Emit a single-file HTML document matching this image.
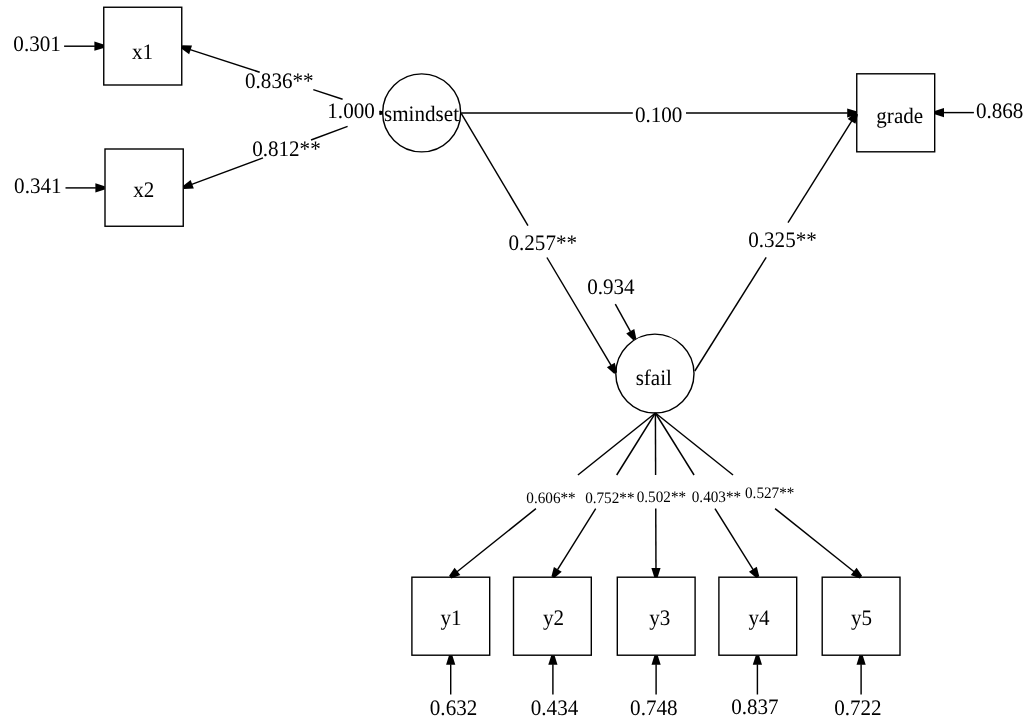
<!DOCTYPE html>
<html><head><meta charset="utf-8"><style>
html,body{margin:0;padding:0;background:#fff;width:1024px;height:725px;overflow:hidden}
svg{display:block;filter:grayscale(1)}
text{font-family:"Liberation Serif",serif;fill:#000;text-rendering:geometricPrecision}
</style></head><body>
<svg width="1024" height="725" viewBox="0 0 1024 725">
<rect width="1024" height="725" fill="#fff"/>
<g stroke="#000" fill="#000">
<rect x="103.75" y="7.25" width="78.00" height="77.75" fill="none" stroke-width="1.4"/>
<rect x="105" y="149" width="78.25" height="77.25" fill="none" stroke-width="1.4"/>
<rect x="856.75" y="73.8" width="77.95" height="78.00" fill="none" stroke-width="1.4"/>
<rect x="411.9" y="577.2" width="77.80" height="78.00" fill="none" stroke-width="1.4"/>
<rect x="513.5" y="577.2" width="77.80" height="78.00" fill="none" stroke-width="1.4"/>
<rect x="617.3" y="577.2" width="77.80" height="78.00" fill="none" stroke-width="1.4"/>
<rect x="718.9" y="577.2" width="77.80" height="78.00" fill="none" stroke-width="1.4"/>
<rect x="822.2" y="577.2" width="77.80" height="78.00" fill="none" stroke-width="1.4"/>
<circle cx="421.65" cy="112.85" r="39.0" fill="none" stroke-width="1.4"/>
<ellipse cx="654.9" cy="373.6" rx="39.1" ry="39.45" fill="none" stroke-width="1.4"/>
<polygon stroke="none" points="379.3,111.3 382.4,110.9 382.4,114.6 379.3,114.2"/>
<line x1="64.10" y1="46.20" x2="94.90" y2="46.20" stroke-width="1.45"/>
<polygon stroke="none" points="103.70,47.90 94.40,50.80 94.40,41.60 103.70,44.50"/>
<line x1="65.50" y1="187.90" x2="95.90" y2="187.90" stroke-width="1.45"/>
<polygon stroke="none" points="104.70,189.60 95.40,192.50 95.40,183.30 104.70,186.20"/>
<line x1="382.00" y1="112.00" x2="379.50" y2="111.19" stroke-width="1.45"/>
<line x1="342.60" y1="99.19" x2="313.30" y2="89.67" stroke-width="1.45"/>
<line x1="259.70" y1="72.24" x2="190.12" y2="49.62" stroke-width="1.45"/>
<polygon stroke="none" points="182.28,45.28 192.02,45.40 189.17,54.15 181.22,48.52"/>
<line x1="382.00" y1="113.60" x2="379.50" y2="114.53" stroke-width="1.45"/>
<line x1="347.60" y1="126.41" x2="311.00" y2="140.03" stroke-width="1.45"/>
<line x1="263.00" y1="157.90" x2="191.75" y2="184.43" stroke-width="1.45"/>
<polygon stroke="none" points="182.91,185.91 190.61,179.94 193.82,188.57 184.09,189.09"/>
<line x1="461.10" y1="113.00" x2="632.80" y2="113.00" stroke-width="1.45"/>
<line x1="686.00" y1="113.00" x2="847.70" y2="113.00" stroke-width="1.45"/>
<polygon stroke="none" points="856.50,114.70 847.20,117.60 847.20,108.40 856.50,111.30"/>
<line x1="973.90" y1="112.60" x2="943.50" y2="112.60" stroke-width="1.45"/>
<polygon stroke="none" points="934.70,110.90 944.00,108.00 944.00,117.20 934.70,114.30"/>
<line x1="461.20" y1="113.30" x2="527.97" y2="225.60" stroke-width="1.45"/>
<line x1="546.93" y1="257.50" x2="611.10" y2="365.44" stroke-width="1.45"/>
<polygon stroke="none" points="614.14,373.87 606.89,367.36 614.80,362.66 617.06,372.13"/>
<line x1="694.80" y1="371.00" x2="766.20" y2="257.30" stroke-width="1.45"/>
<line x1="787.99" y1="222.60" x2="851.82" y2="120.95" stroke-width="1.45"/>
<polygon stroke="none" points="857.94,114.40 855.45,123.82 847.66,118.93 855.06,112.60"/>
<line x1="615.30" y1="304.20" x2="630.53" y2="331.61" stroke-width="1.45"/>
<polygon stroke="none" points="633.31,340.13 626.26,333.40 634.30,328.94 636.29,338.47"/>
<line x1="655.40" y1="413.00" x2="577.92" y2="475.00" stroke-width="1.45"/>
<line x1="535.93" y1="508.60" x2="457.07" y2="571.70" stroke-width="1.45"/>
<polygon stroke="none" points="449.14,575.87 454.59,567.80 460.34,574.98 451.26,578.53"/>
<line x1="655.40" y1="413.00" x2="616.70" y2="475.00" stroke-width="1.45"/>
<line x1="595.72" y1="508.60" x2="557.56" y2="569.74" stroke-width="1.45"/>
<polygon stroke="none" points="551.46,576.30 553.92,566.88 561.73,571.75 554.34,578.10"/>
<line x1="655.40" y1="413.00" x2="655.63" y2="475.00" stroke-width="1.45"/>
<line x1="655.75" y1="508.60" x2="655.97" y2="568.40" stroke-width="1.45"/>
<polygon stroke="none" points="654.30,577.21 651.37,567.92 660.57,567.88 657.70,577.19"/>
<line x1="655.40" y1="413.00" x2="694.07" y2="475.00" stroke-width="1.45"/>
<line x1="715.02" y1="508.60" x2="753.14" y2="569.73" stroke-width="1.45"/>
<polygon stroke="none" points="756.36,578.10 748.98,571.74 756.78,566.87 759.24,576.30"/>
<line x1="655.40" y1="413.00" x2="733.03" y2="475.00" stroke-width="1.45"/>
<line x1="775.10" y1="508.60" x2="854.12" y2="571.71" stroke-width="1.45"/>
<polygon stroke="none" points="859.94,578.53 850.86,574.99 856.60,567.80 862.06,575.87"/>
<line x1="450.70" y1="694.50" x2="450.70" y2="664.30" stroke-width="1.45"/>
<polygon stroke="none" points="452.40,655.50 455.30,664.80 446.10,664.80 449.00,655.50"/>
<line x1="552.90" y1="694.50" x2="552.90" y2="664.30" stroke-width="1.45"/>
<polygon stroke="none" points="554.60,655.50 557.50,664.80 548.30,664.80 551.20,655.50"/>
<line x1="656.10" y1="694.50" x2="656.10" y2="664.30" stroke-width="1.45"/>
<polygon stroke="none" points="657.80,655.50 660.70,664.80 651.50,664.80 654.40,655.50"/>
<line x1="757.40" y1="694.50" x2="757.40" y2="664.30" stroke-width="1.45"/>
<polygon stroke="none" points="759.10,655.50 762.00,664.80 752.80,664.80 755.70,655.50"/>
<line x1="861.10" y1="694.50" x2="861.10" y2="664.30" stroke-width="1.45"/>
<polygon stroke="none" points="862.80,655.50 865.70,664.80 856.50,664.80 859.40,655.50"/>
</g>
<g>
<text transform="translate(13.37 51.3) scale(1 1.05)" font-size="21.1">0.301</text>
<text transform="translate(14.08 193.1) scale(1 1.05)" font-size="21.1">0.341</text>
<text transform="translate(131.88 58.75) scale(1 1.05)" font-size="21.1">x1</text>
<text transform="translate(133.29 196.9) scale(1 1.05)" font-size="21.1">x2</text>
<text transform="translate(245.04 88) scale(1 1.05)" font-size="21.1">0.836**</text>
<text transform="translate(252.16 155.6) scale(1 1.05)" font-size="21.1">0.812**</text>
<text transform="translate(327.31 117.7) scale(1 1.05)" font-size="21.1">1.000</text>
<text transform="translate(384.0 121.25) scale(1 1.05)" font-size="21.1">smindset</text>
<text transform="translate(634.92 121.5) scale(1 1.05)" font-size="21.1">0.100</text>
<text transform="translate(876.32 122.9) scale(1 1.05)" font-size="21.1">grade</text>
<text transform="translate(975.9 118.4) scale(1 1.05)" font-size="21.1">0.868</text>
<text transform="translate(508.47 249.7) scale(1 1.05)" font-size="21.1">0.257**</text>
<text transform="translate(748.24 246.5) scale(1 1.05)" font-size="21.1">0.325**</text>
<text transform="translate(587.14 293.7) scale(1 1.05)" font-size="21.1">0.934</text>
<text transform="translate(635.64 385.25) scale(1 1.05)" font-size="21.1">sfail</text>
<text transform="translate(526.31 503.4) scale(1 1.05)" font-size="15.2">0.606**</text>
<text transform="translate(585.14 503.4) scale(1 1.05)" font-size="15.2">0.752**</text>
<text transform="translate(636.72 502.4) scale(1 1.05)" font-size="15.2">0.502**</text>
<text transform="translate(691.74 502.2) scale(1 1.05)" font-size="15.2">0.403**</text>
<text transform="translate(745.03 498.1) scale(1 1.05)" font-size="15.2">0.527**</text>
<text transform="translate(440.45 625) scale(1 1.05)" font-size="21.1">y1</text>
<text transform="translate(542.89 624.9) scale(1 1.05)" font-size="21.1">y2</text>
<text transform="translate(649.15 624.9) scale(1 1.05)" font-size="21.1">y3</text>
<text transform="translate(748.47 624.9) scale(1 1.05)" font-size="21.1">y4</text>
<text transform="translate(850.97 624.9) scale(1 1.05)" font-size="21.1">y5</text>
<text transform="translate(429.82 714.7) scale(1 1.05)" font-size="21.1">0.632</text>
<text transform="translate(530.76 715.3) scale(1 1.05)" font-size="21.1">0.434</text>
<text transform="translate(630.08 715.3) scale(1 1.05)" font-size="21.1">0.748</text>
<text transform="translate(731.19 714.2) scale(1 1.05)" font-size="21.1">0.837</text>
<text transform="translate(834.18 714.5) scale(1 1.05)" font-size="21.1">0.722</text>
</g>
</svg></body></html>
